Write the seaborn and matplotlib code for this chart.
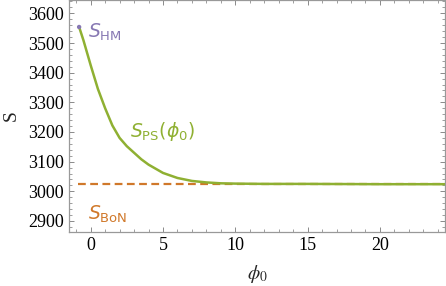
import numpy as np
import pandas as pd
import matplotlib
matplotlib.use("Agg")
import matplotlib.pyplot as plt
import seaborn as sns
from matplotlib.ticker import MultipleLocator

# curve S_PS(phi0)
phi0 = [-0.8, -0.5, 0, 0.5, 1, 1.5, 2, 2.5, 3, 3.5, 4, 5, 6, 7, 8, 9, 10, 12, 15, 20, 24.5]
s_ps = [3554, 3509, 3425, 3345, 3280, 3222, 3180, 3152, 3130, 3108, 3090, 3062,
        3045, 3035, 3030, 3027, 3026, 3025, 3025, 3024, 3024]
s_bon = 3024
s_hm = (-0.8, 3554)

green = "#8FB032"
orange = "#D0782A"
purple = "#8778B3"

sns.set_style("ticks")
plt.rcParams["font.family"] = ["Liberation Serif", "DejaVu Serif"]

df = pd.DataFrame({"phi0": phi0, "S": s_ps})
bon = pd.DataFrame({"phi0": [-0.9, 24.5], "S": [s_bon, s_bon]})

fig = plt.figure(figsize=(4.46, 2.86), dpi=100)
ax = fig.add_axes([0.1547, 0.19, 0.843, 0.81])

sns.lineplot(data=bon, x="phi0", y="S", ax=ax, color=orange, lw=1.6,
             dashes=False, linestyle=(0, (3.5, 2)))
sns.lineplot(data=df, x="phi0", y="S", ax=ax, color=green, lw=1.8)
sns.scatterplot(x=[s_hm[0]], y=[s_hm[1]], ax=ax, color=purple, s=10,
                edgecolor="none", zorder=5)

ax.set_xlim(-1.5, 24.5)
ax.set_ylim(2864, 3645)
ax.xaxis.set_major_locator(MultipleLocator(5))
ax.xaxis.set_minor_locator(MultipleLocator(1))
ax.yaxis.set_major_locator(MultipleLocator(100))
ax.yaxis.set_minor_locator(MultipleLocator(20))
ax.tick_params(which="both", direction="in", top=True, right=True,
               color="#777777", labelsize=13, labelcolor="black")
ax.tick_params(which="major", length=3.5, width=0.6)
ax.tick_params(which="minor", length=2, width=0.5)
for sp in ax.spines.values():
    sp.set_color("#999999")
    sp.set_linewidth(0.9)

ax.set_xlabel(r"$\phi_0$", fontsize=14, math_fontfamily="stix", labelpad=7)
ax.set_ylabel("S", fontsize=14, labelpad=6)

ax.text(-0.16, 3536, r"$S_{\mathrm{HM}}$", color=purple, fontsize=13.5,
        va="center", ha="left", math_fontfamily="dejavusans")
ax.text(2.75, 3203, r"$S_{\mathrm{PS}}(\phi_0)$", color=green, fontsize=13.5,
        va="center", ha="left", math_fontfamily="dejavusans")
ax.text(-0.16, 2921, r"$S_{\mathrm{BoN}}$", color=orange, fontsize=13.5,
        va="center", ha="left", math_fontfamily="dejavusans")

fig.savefig("out.png", dpi=100)
